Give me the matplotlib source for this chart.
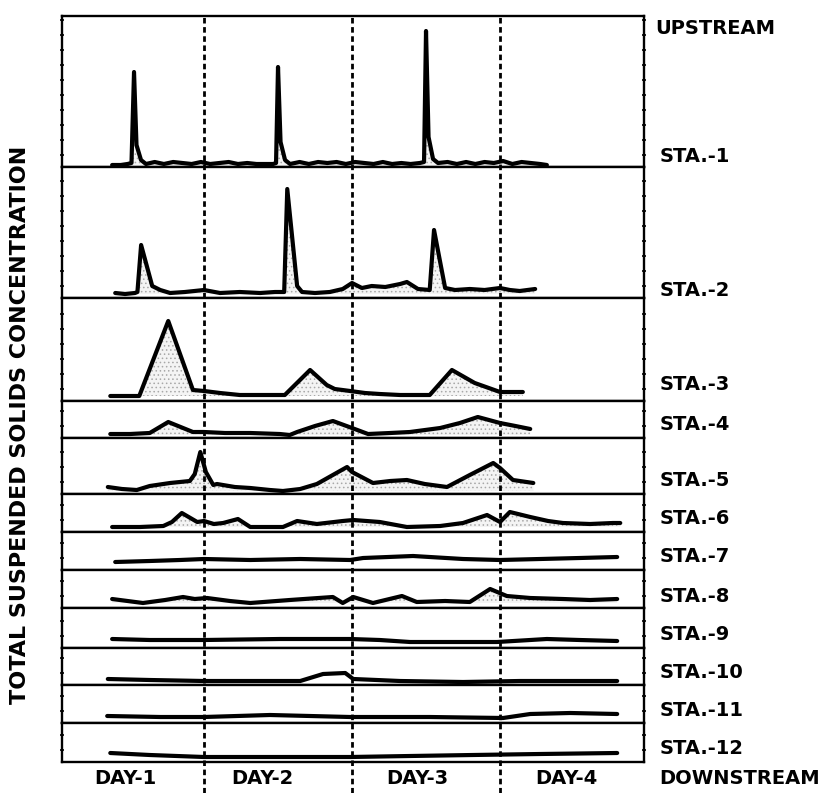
"""Total suspended solids at twelve stations, upstream to downstream, over four days."""

import matplotlib

matplotlib.use("Agg")
import matplotlib.pyplot as plt
import numpy as np

plt.rcParams["font.family"] = ["DejaVu Sans"]
plt.rcParams["hatch.linewidth"] = 0.6

# time in hours from the start of day 1, concentration in relative units
# (one shared scale for all stations)
STATIONS = ["STA.-1", "STA.-2", "STA.-3", "STA.-4", "STA.-5", "STA.-6",
            "STA.-7", "STA.-8", "STA.-9", "STA.-10", "STA.-11", "STA.-12"]
DAY_LABELS = ["DAY-1", "DAY-2", "DAY-3", "DAY-4"]
DAY_BOUNDS = [24, 48, 72]

sta1_t = [9.1, 10.5, 11.6, 12.24, 12.65, 13.05, 13.78, 14.59, 16.0, 17.5, 19.0, 20.5,
          22.0, 23.5, 25.0, 26.5, 28.0, 29.5, 31.0, 32.5, 34.0, 35.2, 35.68, 36.0,
          36.41, 37.14, 37.95, 39.5, 41.0, 42.5, 44.0, 45.5, 47.0, 48.5, 50.0, 51.5,
          53.0, 54.5, 56.0, 57.5, 59.0, 59.68, 60.0, 60.41, 61.14, 61.95, 63.5, 65.0,
          66.5, 68.0, 69.5, 71.0, 72.5, 74.0, 75.5, 77.0, 78.5, 79.6]
sta1_c = [2, 2, 3, 4, 95, 22, 7, 3, 5, 3, 5, 4, 3, 5, 3, 4, 5, 3, 4, 3, 3, 3, 4, 100,
          25, 7, 3, 5, 3, 5, 4, 5, 3, 5, 4, 3, 5, 3, 4, 3, 4, 5, 136, 30, 8, 4, 5, 3,
          5, 3, 5, 4, 6, 3, 5, 4, 3, 2]

sta2_t = [9.6, 11.2, 12.8, 13.2, 13.8, 15.6, 16.9, 18.5, 20.9, 24.0, 26.6, 29.8, 33.1,
          35.5, 37.0, 37.5, 39.1, 39.9, 42.0, 44.4, 46.5, 48.0, 49.6, 51.2, 53.4,
          55.8, 56.9, 58.7, 60.6, 61.3, 63.1, 64.7, 67.1, 69.5, 72.0, 73.6, 75.2, 77.7]
sta2_c = [5, 4, 5, 6, 53, 12, 8, 5, 6, 8, 5, 6, 5, 6, 6, 109, 12, 6, 5, 6, 9, 15, 10,
          12, 11, 14, 16, 9, 8, 68, 10, 8, 9, 8, 10, 8, 7, 9]

sta3_t = [8.8, 11.2, 13.5, 18.2, 22.2, 24.0, 26.6, 29.8, 33.9, 37.1, 41.2, 43.9, 45.2,
          47.7, 50.1, 52.5, 55.8, 60.6, 64.2, 67.9, 72.0, 74.5, 75.7]
sta3_c = [5, 5, 5, 80, 11, 10, 8, 6, 6, 6, 31, 16, 12, 10, 8, 7, 6, 6, 31, 18, 9, 9, 9]

sta4_t = [8.8, 12.0, 15.2, 18.2, 22.2, 24.0, 27.4, 31.5, 36.3, 37.9, 39.1, 42.0, 44.9,
          48.0, 50.6, 54.2, 57.4, 62.3, 65.5, 68.4, 72.0, 74.5, 76.9]
sta4_c = [4, 4, 5, 16, 6, 6, 5, 5, 4, 3, 6, 12, 17, 10, 4, 5, 6, 10, 15, 21, 15, 12, 9]

sta5_t = [8.4, 10.7, 13.1, 15.2, 18.5, 21.7, 22.5, 23.4, 24.3, 25.5, 26.1, 29.0, 31.5,
          34.7, 36.8, 39.6, 42.3, 47.2, 48.0, 51.4, 54.2, 56.9, 59.8, 63.4, 67.1,
          70.9, 72.0, 74.1, 77.4]
sta5_c = [7, 5, 4, 8, 11, 13, 20, 42, 22, 9, 10, 7, 6, 4, 3, 5, 10, 27, 22, 11, 13, 14,
          10, 7, 19, 31, 26, 14, 11]

sta6_t = [9.1, 13.6, 17.4, 18.8, 20.4, 22.9, 24.0, 25.6, 27.1, 29.5, 31.5, 36.8, 39.1,
          42.3, 46.5, 48.2, 52.5, 56.9, 62.3, 66.0, 69.9, 72.0, 73.6, 76.9, 79.8,
          82.2, 86.6, 90.3, 91.5]
sta6_c = [5, 5, 6, 10, 19, 10, 11, 8, 9, 13, 5, 5, 11, 8, 11, 12, 10, 5, 6, 9, 17, 10,
          20, 15, 11, 9, 8, 9, 9]

sta7_t = [9.6, 15.2, 20.1, 24.0, 31.5, 39.6, 47.7, 49.8, 57.9, 66.0, 72.0, 78.5, 84.9, 91.0]
sta7_c = [8, 9, 10, 11, 10, 11, 10, 12, 14, 11, 10, 11, 12, 13]

sta8_t = [9.1, 14.1, 17.7, 20.6, 22.5, 24.5, 28.2, 31.5, 37.9, 44.9, 46.5, 48.2, 51.4,
          56.1, 58.5, 63.1, 67.1, 70.4, 73.1, 76.9, 82.2, 86.6, 91.0]
sta8_c = [9, 5, 8, 11, 9, 10, 7, 5, 8, 11, 5, 11, 5, 12, 6, 7, 6, 19, 12, 10, 9, 8, 9]

sta9_t = [9.1, 15.2, 24.0, 36.3, 47.7, 52.5, 57.4, 63.9, 71.5, 79.6, 84.9, 91.0]
sta9_c = [9, 8, 8, 9, 9, 8, 6, 6, 6, 9, 8, 7]

sta10_t = [8.4, 15.2, 24.0, 33.1, 39.6, 43.3, 46.9, 48.2, 55.8, 66.0, 75.2, 84.9, 91.0]
sta10_c = [6, 5, 4, 4, 4, 11, 12, 6, 4, 3, 4, 4, 4]

sta11_t = [8.3, 16.9, 24.0, 34.7, 41.2, 47.7, 60.6, 72.5, 76.9, 83.4, 91.0]
sta11_c = [7, 6, 6, 8, 7, 6, 6, 5, 9, 10, 9]

sta12_t = [8.8, 15.2, 24.0, 36.3, 47.7, 57.4, 67.6, 78.5, 91.0]
sta12_c = [9, 7, 5, 5, 5, 6, 7, 8, 9]

series = [(sta1_t, sta1_c), (sta2_t, sta2_c), (sta3_t, sta3_c), (sta4_t, sta4_c),
          (sta5_t, sta5_c), (sta6_t, sta6_c), (sta7_t, sta7_c), (sta8_t, sta8_c),
          (sta9_t, sta9_c), (sta10_t, sta10_c), (sta11_t, sta11_c), (sta12_t, sta12_c)]
shaded = [True, True, True, True, True, True, False, True, False, False, False, False]

# --- layout (pixels of the 837 x 793 canvas) ---
W, H = 837, 793
X0, X1 = 62, 644
EDGES = [16, 167, 298, 401, 438, 494, 532, 570, 608, 648, 685, 723, 762]
XLIM = (0.97, 95.35)
LABEL_Y = [157, 290, 385, 424, 481, 518, 557, 596, 635, 672, 710, 748]
DAY_X = [125, 262, 417, 566]

fig = plt.figure(figsize=(W / 100, H / 100), dpi=100)

for i, (name, (t, c)) in enumerate(zip(STATIONS, series)):
    top, bot = EDGES[i], EDGES[i + 1]
    ax = fig.add_axes([X0 / W, 1 - bot / H, (X1 - X0) / W, (bot - top) / H])
    t = np.asarray(t, dtype=float)
    c = np.asarray(c, dtype=float)
    if shaded[i]:
        base = c.min()
        ax.fill_between(t, base, c, where=c > base + 2, interpolate=True,
                        facecolor="#f4f4f4", edgecolor="#a8a8a8", hatch="....",
                        linewidth=0)
    ax.plot(t, c, color="black", linewidth=3.0, solid_joinstyle="round",
            solid_capstyle="round")
    ax.set_xlim(*XLIM)
    ax.set_ylim(0, bot - top)
    ax.set_xticks([])
    ax.set_yticks(np.arange(12, bot - top - 3, 15))
    ax.tick_params(axis="y", which="both", left=True, right=True, labelleft=False,
                   direction="inout", length=3, width=1.2)
    for sp in ax.spines.values():
        sp.set_linewidth(1.7)
    fig.text(660 / W, 1 - LABEL_Y[i] / H, name, ha="left", va="center",
             fontsize=14, fontweight="bold")

# day boundaries run through every panel and down past the frame
ov = fig.add_axes([X0 / W, 0, (X1 - X0) / W, 1 - EDGES[0] / H])
ov.set_xlim(*XLIM)
ov.set_ylim(0, 1)
ov.axis("off")
for b in DAY_BOUNDS:
    ov.axvline(b, color="black", linewidth=2.0, dashes=(2.0, 1.3))

fig.text(655 / W, 1 - 28 / H, "UPSTREAM", ha="left", va="center",
         fontsize=14, fontweight="bold")
fig.text(659 / W, 1 - 778 / H, "DOWNSTREAM", ha="left", va="center",
         fontsize=14, fontweight="bold")
for lbl, x in zip(DAY_LABELS, DAY_X):
    fig.text(x / W, 1 - 778 / H, lbl, ha="center", va="center",
             fontsize=14, fontweight="bold")
fig.text(20 / W, 1 - 425 / H, "TOTAL SUSPENDED SOLIDS CONCENTRATION",
         rotation=90, ha="center", va="center", fontsize=16, fontweight="bold")

fig.savefig("out.png", dpi=100)
plt.close(fig)
